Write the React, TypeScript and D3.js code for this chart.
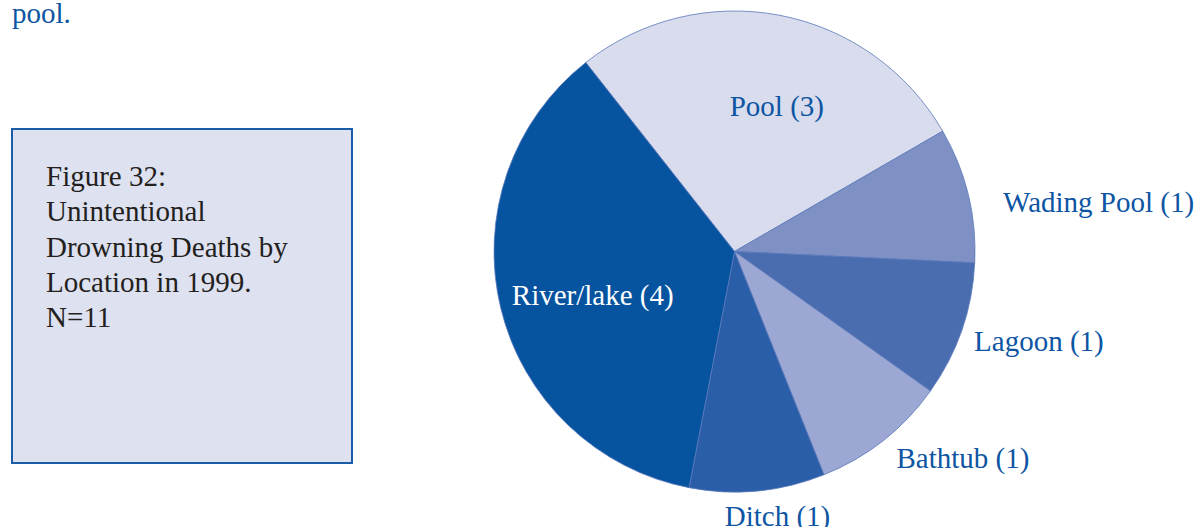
import React from "react"
import * as d3 from "d3"

// deaths by location, 1999 (N=11)
const locations = ["Pool", "Wading Pool", "Lagoon", "Bathtub", "Ditch", "River/lake"]
const deaths = [3, 1, 1, 1, 1, 4]
const sliceColors = ["#d8dcec", "#7f91c4", "#4a6db0", "#9ca8d3", "#2a5ea8", "#0653a0"]

const captionLines = [
  "Figure 32:",
  "Unintentional",
  "Drowning Deaths by",
  "Location in 1999.",
  "N=11",
]

const W = 1201
const H = 527
const cx = 734.5
const cy = 251.5
const radius = 240.5
const startDeg = -38.2

// small hand nudges for the labels
const nudge: Record<string, [number, number]> = {
  "Wading Pool": [14, 12],
  Lagoon: [-8, 4],
  Bathtub: [0, 0],
  Ditch: [18, 4],
  Pool: [14, 2],
  "River/lake": [4, 8],
}

export default function App() {
  const ref = React.useRef<SVGSVGElement>(null)

  React.useEffect(() => {
    const svg = d3.select(ref.current)
    svg.selectAll("*").remove()

    const font = "Liberation Serif"
    const fs = 29
    const blue = "#0d55a3"

    // leftover text from the page above
    svg.append("text")
      .attr("x", 12)
      .attr("y", 23)
      .attr("font-family", font)
      .attr("font-size", fs)
      .attr("fill", blue)
      .text("pool.")

    // caption box
    svg.append("rect")
      .attr("x", 12)
      .attr("y", 129)
      .attr("width", 340)
      .attr("height", 334)
      .attr("fill", "#dee1f0")
      .attr("stroke", "#1a5ca8")
      .attr("stroke-width", 2)

    svg.append("g")
      .selectAll("text")
      .data(captionLines)
      .join("text")
      .attr("x", 46)
      .attr("y", (d, i) => 186 + i * 35.3)
      .attr("font-family", font)
      .attr("font-size", fs)
      .attr("fill", "#231f20")
      .text((d) => d)

    const rows = locations.map((name, i) => ({ name, value: deaths[i], color: sliceColors[i] }))

    const start = (startDeg * Math.PI) / 180
    const pie = d3.pie<any>()
      .sort(null)
      .value((d) => d.value)
      .startAngle(start)
      .endAngle(start + 2 * Math.PI)

    const arcs = pie(rows)
    const arc = d3.arc<any>().innerRadius(0).outerRadius(radius)
    const innerLabel = d3.arc<any>().innerRadius(150).outerRadius(150)
    const outerLabel = d3.arc<any>().innerRadius(262).outerRadius(262)

    const g = svg.append("g").attr("transform", `translate(${cx},${cy})`)

    g.selectAll("path")
      .data(arcs)
      .join("path")
      .attr("d", arc)
      .attr("fill", (d) => d.data.color)
      .attr("stroke", "#5b79bb")
      .attr("stroke-width", 0.8)

    g.selectAll("text")
      .data(arcs)
      .join("text")
      .each(function (d) {
        const big = d.data.value >= 3
        const [x, y] = big ? innerLabel.centroid(d) : outerLabel.centroid(d)
        const mid = (d.startAngle + d.endAngle) / 2
        const anchor = big || Math.sin(mid) < 0.3 ? "middle" : "start"
        const [dx, dy] = nudge[d.data.name] || [0, 0]
        d3.select(this)
          .attr("x", x + dx)
          .attr("y", y + dy)
          .attr("dy", "0.35em")
          .attr("text-anchor", anchor)
      })
      .attr("font-family", font)
      .attr("font-size", fs)
      .attr("fill", (d) => (d.data.name === "River/lake" ? "#ffffff" : blue))
      .text((d) => `${d.data.name} (${d.data.value})`)
  }, [])

  return (
    <svg
      ref={ref}
      width={W}
      height={H}
      style={{ position: "absolute", left: 0, top: 0, background: "#ffffff" }}
    />
  )
}
